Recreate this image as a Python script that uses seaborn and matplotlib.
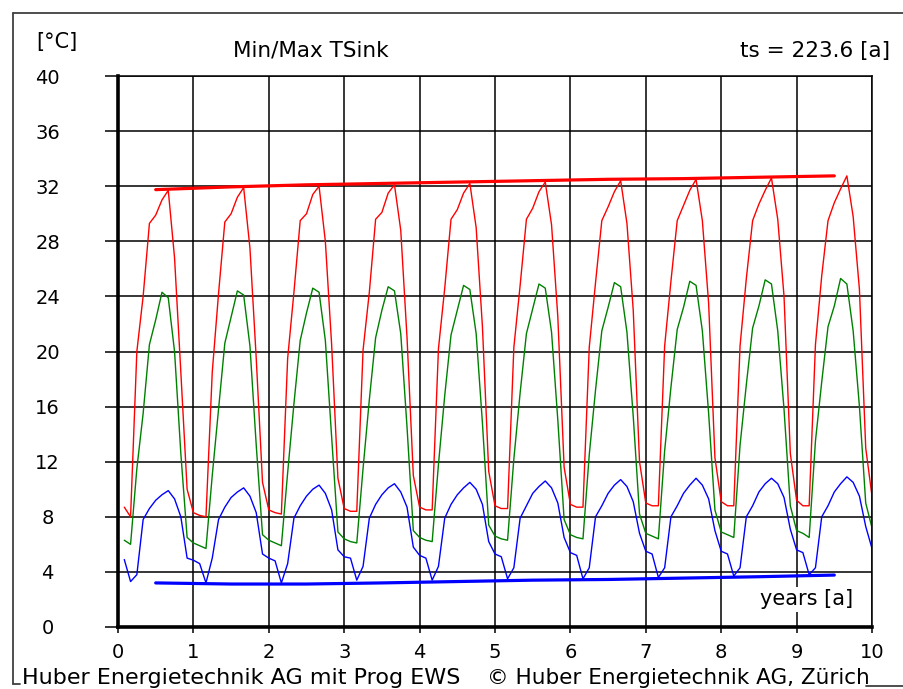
import numpy as np
import pandas as pd
import matplotlib
matplotlib.use('Agg')
import matplotlib.pyplot as plt
import seaborn as sns
from matplotlib.lines import Line2D

sns.set_style('white')
plt.rcParams['font.family'] = ['DejaVu Sans']
plt.rcParams['text.color'] = 'black'
plt.rcParams['xtick.color'] = 'black'
plt.rcParams['ytick.color'] = 'black'

# Zeitachse: 10 Jahre, Monatswerte
years = list(range(10))
months = list(range(1, 13))

# TSink max (rot), je Jahr 12 Monatswerte
t_max = [
    [8.7, 8.0, 20.0, 24.0, 29.3, 29.9, 31.0, 31.7, 26.8, 18.5, 10.0, 8.3],
    [8.1, 8.0, 18.5, 24.2, 29.4, 30.0, 31.2, 31.9, 27.5, 19.5, 10.5, 8.5],
    [8.3, 8.2, 19.5, 24.3, 29.5, 30.0, 31.4, 32.0, 28.0, 20.5, 10.8, 8.6],
    [8.4, 8.4, 20.1, 24.3, 29.6, 30.1, 31.5, 32.1, 28.8, 21.0, 11.0, 8.7],
    [8.5, 8.5, 20.2, 24.6, 29.6, 30.3, 31.5, 32.2, 29.0, 21.8, 11.3, 8.8],
    [8.6, 8.6, 20.3, 24.8, 29.6, 30.4, 31.6, 32.3, 29.2, 22.5, 11.6, 8.9],
    [8.7, 8.7, 20.3, 25.0, 29.5, 30.5, 31.6, 32.4, 29.3, 23.0, 12.0, 9.0],
    [8.8, 8.8, 20.4, 25.1, 29.5, 30.6, 31.7, 32.5, 29.5, 23.5, 12.3, 9.1],
    [8.8, 8.8, 20.4, 25.3, 29.5, 30.7, 31.7, 32.6, 29.6, 24.0, 12.6, 9.2],
    [8.8, 8.8, 20.5, 25.5, 29.5, 30.8, 31.8, 32.75, 29.8, 24.5, 13.0, 9.5],
]

# TSink mittel (gruen)
t_mid = [
    [6.3, 6.0, 11.5, 15.5, 20.5, 22.3, 24.3, 23.9, 20.0, 12.6, 6.5, 6.1],
    [5.9, 5.7, 11.0, 15.8, 20.6, 22.5, 24.4, 24.1, 20.4, 13.2, 6.7, 6.3],
    [6.1, 5.9, 11.2, 16.2, 20.8, 22.8, 24.6, 24.3, 20.8, 13.8, 6.9, 6.4],
    [6.2, 6.1, 11.5, 16.5, 21.0, 23.0, 24.7, 24.4, 21.3, 14.5, 7.0, 6.5],
    [6.3, 6.2, 11.8, 16.8, 21.2, 23.0, 24.8, 24.5, 21.3, 14.8, 7.4, 6.6],
    [6.4, 6.3, 12.2, 17.0, 21.3, 23.1, 24.9, 24.6, 21.4, 15.0, 7.8, 6.7],
    [6.5, 6.4, 12.5, 17.2, 21.5, 23.2, 25.0, 24.7, 21.4, 15.3, 8.2, 6.8],
    [6.6, 6.4, 12.8, 17.4, 21.6, 23.2, 25.1, 24.8, 21.5, 15.5, 8.5, 6.9],
    [6.7, 6.5, 13.2, 17.6, 21.7, 23.3, 25.2, 24.9, 21.5, 15.8, 8.8, 7.0],
    [6.8, 6.5, 13.5, 17.8, 21.8, 23.3, 25.3, 24.9, 21.5, 16.0, 9.0, 7.2],
]

# TSink min (blau)
t_min = [
    [4.9, 3.3, 3.8, 7.8, 8.6, 9.2, 9.6, 9.9, 9.3, 8.0, 5.0, 4.85],
    [4.6, 3.2, 5.0, 7.8, 8.7, 9.4, 9.8, 10.1, 9.5, 8.3, 5.3, 5.0],
    [4.8, 3.2, 4.6, 7.9, 8.8, 9.5, 10.0, 10.3, 9.7, 8.5, 5.6, 5.1],
    [5.0, 3.4, 4.4, 7.9, 8.9, 9.6, 10.1, 10.4, 9.8, 8.7, 5.8, 5.2],
    [5.0, 3.4, 4.4, 7.9, 8.9, 9.6, 10.1, 10.5, 10.0, 8.9, 6.2, 5.3],
    [5.1, 3.5, 4.3, 7.9, 8.8, 9.7, 10.2, 10.6, 10.1, 9.0, 6.5, 5.4],
    [5.2, 3.5, 4.3, 8.0, 8.8, 9.7, 10.3, 10.7, 10.2, 9.1, 6.8, 5.5],
    [5.3, 3.6, 4.3, 8.0, 8.8, 9.7, 10.3, 10.8, 10.3, 9.3, 7.0, 5.5],
    [5.3, 3.7, 4.3, 8.0, 8.8, 9.8, 10.4, 10.8, 10.4, 9.4, 7.1, 5.6],
    [5.4, 3.8, 4.3, 8.0, 8.8, 9.8, 10.4, 10.9, 10.5, 9.5, 7.3, 5.7],
]

# Jahres-Extremwerte (dicke Linien)
env_t = [0.5, 1.5, 2.5, 3.5, 4.5, 5.5, 6.5, 7.5, 8.5, 9.5]
env_max = [31.75, 31.95, 32.1, 32.2, 32.3, 32.4, 32.5, 32.55, 32.65, 32.75]
env_min = [3.2, 3.12, 3.12, 3.2, 3.3, 3.4, 3.45, 3.55, 3.65, 3.77]

x_ticks = list(range(0, 11))
y_ticks = list(range(0, 41, 4))

# Long-Format fuer seaborn
rows = []
for name, table in [('max', t_max), ('mid', t_mid), ('min', t_min)]:
    for y, vals in zip(years, table):
        for m, v in zip(months, vals):
            rows.append({'t': y + m / 12, 'T': v, 'kurve': name})
df = pd.DataFrame(rows)
env = pd.DataFrame({'t': env_t, 'max': env_max, 'min': env_min})

colors = {'max': '#ff0000', 'mid': '#008000', 'min': '#0000ff'}

W, H = 904, 689
fig = plt.figure(figsize=(W / 100, H / 100), dpi=100)
ax = fig.add_axes([118 / W, 1 - 627 / H, 754 / W, 551 / H])

sns.lineplot(data=df, x='t', y='T', hue='kurve', palette=colors, units='kurve',
             estimator=None, sort=False, lw=1.0, legend=False, ax=ax)
sns.lineplot(data=env, x='t', y='max', color='#ff0000', lw=2.3, ax=ax)
sns.lineplot(data=env, x='t', y='min', color='#0000ff', lw=2.3, ax=ax)

ax.set_xlim(0, 10)
ax.set_ylim(0, 40)
ax.set_xticks(x_ticks)
ax.set_yticks(y_ticks)
ax.set_xlabel('')
ax.set_ylabel('')
ax.grid(True, color='black', lw=1.1)
ax.set_axisbelow(True)

for s in ['top', 'right']:
    ax.spines[s].set_color('black')
    ax.spines[s].set_linewidth(1.1)
for s in ['left', 'bottom']:
    ax.spines[s].set_color('black')
    ax.spines[s].set_linewidth(2.6)

ax.tick_params(axis='y', left=True, direction='out', length=9.6, width=1.1,
               color='black', labelcolor='black', pad=41, labelsize=14)
ax.tick_params(axis='x', bottom=True, direction='out', length=4.3, width=1.1,
               color='black', labelcolor='black', pad=7, labelsize=14)
for lbl in ax.get_yticklabels():
    lbl.set_horizontalalignment('center')

ax.text(9.75, 2.0, 'years [a]', ha='right', va='center', fontsize=15,
        bbox=dict(facecolor='white', edgecolor='none', pad=2), zorder=1.5)

# Beschriftungen oben
fig.text(36 / W, 1 - 42 / H, '[°C]', ha='left', va='center', fontsize=15)
fig.text(233 / W, 1 - 51 / H, 'Min/Max TSink', ha='left', va='center', fontsize=15.5)
fig.text(890 / W, 1 - 51 / H, 'ts = 223.6 [a]', ha='right', va='center', fontsize=15.5)

# Fusszeile
fig.text(22 / W, 1 - 678 / H, 'Huber Energietechnik AG mit Prog EWS', ha='left',
         va='center', fontsize=16)
fig.text(487 / W, 1 - 678 / H, '© Huber Energietechnik AG, Zürich', ha='left',
         va='center', fontsize=15.5)

# Rahmen
frame_kw = dict(color='#404040', lw=1.3, transform=fig.transFigure)
fig.add_artist(Line2D([13 / W, 13 / W], [1 - 684 / H, 1 - 13 / H], **frame_kw))
fig.add_artist(Line2D([13 / W, 1.0], [1 - 13 / H, 1 - 13 / H], **frame_kw))
fig.add_artist(Line2D([13 / W, 20 / W], [1 - 684 / H, 1 - 684 / H], **frame_kw))
fig.add_artist(Line2D([866 / W, 1.0], [1 - 686 / H, 1 - 686 / H], **frame_kw))

fig.savefig('out.png', dpi=100)
